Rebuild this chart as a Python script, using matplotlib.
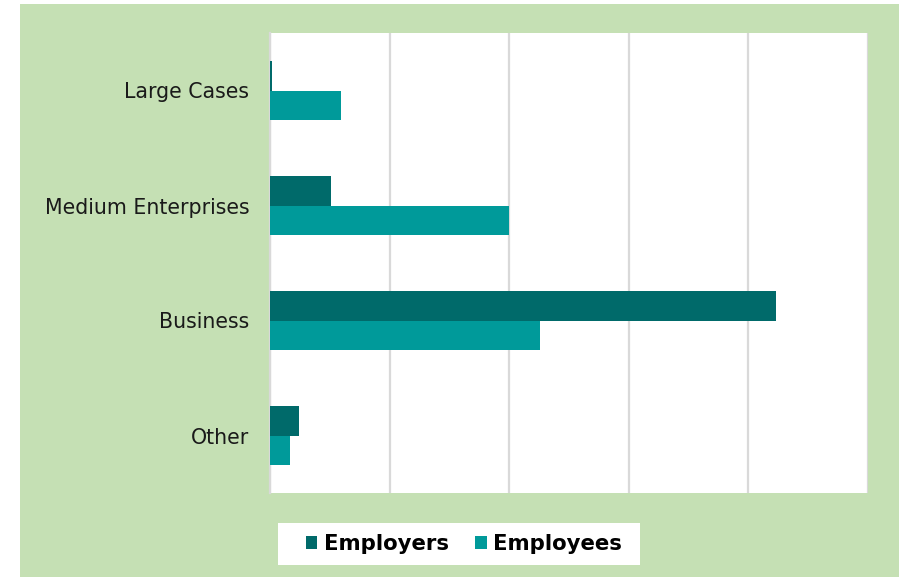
import numpy as np
import matplotlib
matplotlib.use("Agg")
import matplotlib.pyplot as plt
from matplotlib.patches import Rectangle

# data
categories = ["Large Cases", "Medium Enterprises", "Business", "Other"]
employers = [0.02, 0.51, 4.23, 0.24]
employees = [0.59, 2.0, 2.26, 0.17]

EMPLOYERS_COLOR = "#006a6a"
EMPLOYEES_COLOR = "#009a9a"
BG_GREEN = "#c5e0b4"

W, H = 899, 577
fig = plt.figure(figsize=(W / 100, H / 100), dpi=100)
fig.patch.set_facecolor("white")
# green panel behind everything
fig.patches.append(Rectangle((20 / W, 0), 1 - 20 / W, 573 / H,
                             transform=fig.transFigure, facecolor=BG_GREEN,
                             edgecolor="none", zorder=-10))
# white legend box
fig.patches.append(Rectangle((278 / W, 1 - 565 / H), 362 / W, 42 / H,
                             transform=fig.transFigure, facecolor="white",
                             edgecolor="none", zorder=-5))

ax = fig.add_axes([270 / W, 84 / H, 598 / W, 460 / H])
ax.set_facecolor("white")

y = np.arange(len(categories))
h = 0.26
ax.barh(y - h / 2, employers, height=h, color=EMPLOYERS_COLOR, label="Employers", zorder=3)
ax.barh(y + h / 2, employees, height=h, color=EMPLOYEES_COLOR, label="Employees", zorder=3)

ax.set_xlim(0, 5)
ax.set_ylim(3.5, -0.5)
ax.set_xticks(np.arange(0, 6, 1))
ax.set_xticklabels([])
ax.set_yticks(y)
ax.set_yticklabels(categories, fontsize=14.8, color="#1a1a1a")
ax.tick_params(axis="both", length=0)
ax.tick_params(axis="y", pad=15)
ax.grid(axis="x", color="#d9d9d9", linewidth=1.6, zorder=0)
for s in ["top", "bottom", "right"]:
    ax.spines[s].set_visible(False)
ax.spines["left"].set_color("#d9d9d9")
ax.spines["left"].set_linewidth(1.6)

leg = fig.legend(loc="center", bbox_to_anchor=(464 / W, 1 - 544 / H), ncol=2,
                 frameon=False, handlelength=0.55, handleheight=0.55,
                 handletextpad=0.3, columnspacing=1.25, borderpad=0.3,
                 prop={"weight": "bold", "size": 15.3})

fig.savefig("out.png", dpi=100, facecolor=fig.get_facecolor())
